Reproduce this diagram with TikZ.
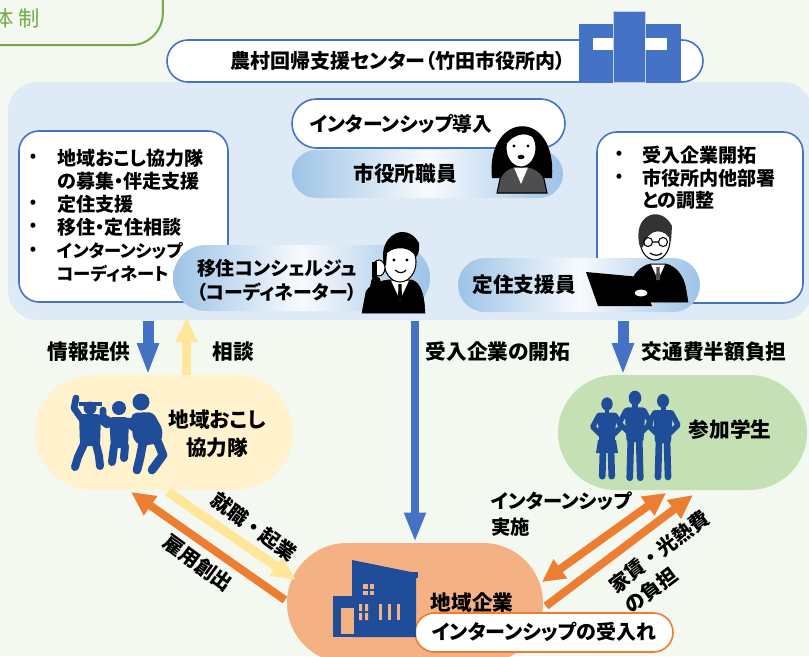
\documentclass[tikz,border=0pt]{standalone}
\usepackage{fontspec}
\setmainfont{Noto Sans CJK JP}[RawFeature={+palt}]
\newfontfamily\jpwide{Noto Sans CJK JP}
\usetikzlibrary{shapes.misc,arrows.meta}

\definecolor{bgc}{RGB}{243,248,240}
\definecolor{panelc}{RGB}{222,234,246}
\definecolor{lineblue}{RGB}{68,114,196}
\definecolor{pillblue}{RGB}{157,195,230}
\definecolor{arrowyellow}{RGB}{255,230,153}
\definecolor{orangec}{RGB}{237,125,49}
\definecolor{yellowpill}{RGB}{255,242,204}
\definecolor{greenpill}{RGB}{197,224,180}
\definecolor{orangepill}{RGB}{244,177,131}
\definecolor{silc}{RGB}{31,77,154}
\definecolor{tabgreen}{RGB}{112,173,71}
\definecolor{suitgray}{RGB}{78,78,78}

\tikzset{
  pill/.style={rounded rectangle, inner sep=0pt},
  whitepill/.style={pill, fill=white, draw=lineblue, line width=1.2pt},
  shadepill/.style={pill, left color=pillblue, right color=pillblue, middle color=white!92!pillblue},
  listbox/.style={rectangle, rounded corners=15pt, fill=white, draw=lineblue, line width=1.2pt, inner sep=0pt},
  lbl/.style={font=\fontsize{15.5}{18.5}\selectfont\bfseries, inner sep=0pt},
  widelbl/.style={font=\jpwide\fontsize{15}{19}\selectfont\bfseries, inner sep=0pt},
  boxtxt/.style={font=\fontsize{14.3}{17}\selectfont\bfseries, inner sep=0pt, anchor=west},
  katatxt/.style={boxtxt, font=\fontsize{13}{17}\selectfont\bfseries},
  bul/.style={font=\fontsize{12}{14}\selectfont\bfseries, inner sep=0pt},
  bluearrow/.style={draw=lineblue, line width=8.25pt, -{Triangle[width=15pt,length=24pt]}},
  thinblue/.style={draw=lineblue, line width=6pt, -{Triangle[width=15pt,length=22pt]}},
  yellowarrow/.style={draw=arrowyellow, line width=7pt, -{Triangle[width=15.5pt,length=18pt]}},
  orangearrow/.style={draw=orangec, line width=6pt, -{Triangle[width=16.5pt,length=18pt]}},
  sil/.style={draw=silc, line cap=round, line join=round},
  student/.pic={
    \fill[silc] (0,0) ellipse [x radius=6, y radius=7];
    \fill[silc] (-2.5,5) rectangle (2.5,10);
    \fill[silc,rounded corners=2pt] (-10,9) -- (10,9) -- (8,42) -- (-8,42) -- cycle;
    \draw[sil,line width=4pt] (-8.5,12) -- (-15,24) -- (-7,32) (8.5,12) -- (15,24) -- (7,32);
    \draw[sil,line width=5pt] (-4,40) -- (-5,76) (4,40) -- (5,76);
  }
}

\begin{document}
\begin{tikzpicture}[x=0.75pt,y=-0.75pt]
\useasboundingbox (0,0) rectangle (809,656);
\clip (0,0) rectangle (809,656);
\fill[bgc] (0,0) rectangle (809,656);

% heading tab
\node[draw=tabgreen, line width=1.5pt, rounded corners=24pt, minimum width=152pt, minimum height=64pt, inner sep=0pt] (tab) at (61.5,2.5) {};
\node[font=\fontsize{16}{19}\selectfont, text=tabgreen, inner sep=0pt] (tabA) at (3,18) {体};
\node[font=\fontsize{16}{19}\selectfont, text=tabgreen, inner sep=0pt] (tabB) at (29,18) {制};

% light blue panel
\node[rectangle, rounded corners=22pt, fill=panelc, minimum width=603pt, minimum height=178.5pt, inner sep=0pt] (panel) at (410,201) {};

% centre title
\node[whitepill, minimum width=402pt, minimum height=31.5pt] (title) at (435,61) {};
\node[lbl, font=\fontsize{15}{18}\selectfont\bfseries] (titletxt) at (398,61) {農村回帰支援センター（竹田市役所内）};

% city office building
\fill[lineblue] (579,24) rectangle (613,82);
\fill[lineblue] (645,24) rectangle (681,82);
\draw[fill=lineblue, draw=white!65!lineblue, line width=0.6pt] (613,11) rectangle (645,82);
\fill[white] (593,38) rectangle (613,50);
\fill[white] (645,38) rectangle (667,50);

% city staff
\node[whitepill, minimum width=204.75pt, minimum height=36.75pt] (intern) at (428.5,123.5) {};
\node[lbl, font=\fontsize{14.8}{18}\selectfont\bfseries] (interntxt) at (401,124) {インターンシップ導入};
\node[shadepill, minimum width=203.25pt, minimum height=36pt] (staff) at (427.5,174) {};
\node[lbl] (stafftxt) at (405,174) {市役所職員};

% task lists
\node[listbox, minimum width=156.75pt, minimum height=128.25pt] (leftbox) at (123.5,216.5) {};
\foreach \i/\yy in {1/158,3/204,4/227,5/251}
  \node[bul] (lb\i) at (33,\yy) {•};
\foreach \i/\yy/\t in {1/158/地域おこし協力隊, 2/181/の募集・伴走支援, 3/204/定住支援, 4/227/移住・定住相談}
  \node[boxtxt] (lt\i) at (57,\yy) {\t};
\foreach \i/\yy/\t in {5/251/インターンシップ, 6/274/コーディネート}
  \node[katatxt] (lt\i) at (57,\yy) {\t};

\node[listbox, minimum width=154.5pt, minimum height=128.25pt] (rightbox) at (700,217.5) {};
\foreach \i/\yy in {1/155,2/178}
  \node[bul] (rb\i) at (619,\yy) {•};
\foreach \i/\yy/\t in {1/155/受入企業開拓, 2/178/市役所内他部署, 3/200/との調整}
  \node[boxtxt] (rt\i) at (642,\yy) {\t};

% concierge and settlement staff
\node[shadepill, minimum width=192.75pt, minimum height=49.5pt] (conc) at (301.5,278) {};
\node[lbl, align=center, font=\fontsize{14.2}{18}\selectfont\bfseries] (conctxt) at (277,280) {移住コンシェルジュ\\（コーディネーター）};
\node[shadepill, minimum width=181.5pt, minimum height=40.5pt] (settle) at (579,285) {};
\node[lbl] (settletxt) at (524,285) {定住支援員};

% woman
\fill[black] (492,178) .. controls (485,112) and (557,106) .. (552,178) -- cycle;
\draw[fill=suitgray, line width=0.8pt] (497,193) -- (500,179) .. controls (503,171) and (509,168) .. (514,167) -- (528,167) .. controls (534,168) and (541,171) .. (544,179) -- (547,193) -- cycle;
\fill[white] (514,167.5) -- (521,184) -- (528,167.5) -- cycle;
\draw[fill=white, line width=0.8pt] (521,148) ellipse [x radius=15, y radius=19];
\fill[black] (505,146) .. controls (504,124) and (536,118) .. (538,143) .. controls (531,131) and (515,131) .. (505,146) -- cycle;
\fill[black] (514,146) circle [radius=1.6] (528,146) circle [radius=1.6];
\fill[black] (521,157) ellipse [x radius=3.5, y radius=2.2];

% man on the phone
\draw[fill=black] (362,313) -- (366,292) .. controls (370,284) and (380,281) .. (388,280) -- (412,280) .. controls (420,283) and (424,292) .. (425,313) -- cycle;
\fill[white] (391,280.5) -- (400,300) -- (409,280.5) -- cycle;
\fill[black] (398.5,284) -- (401.5,284) -- (402,299) -- (398,299) -- cycle;
\draw[black, line width=7pt, line cap=round] (371,306) -- (376,281);
\draw[fill=white, line width=0.8pt] (400,262) ellipse [x radius=16, y radius=20];
\fill[black] (384,264) .. controls (377,236) and (406,220) .. (419,243) .. controls (420,250) and (418,255) .. (416,257) .. controls (410,246) and (395,246) .. (387,253) -- (386,266) -- cycle;
\draw[fill=white, line width=0.8pt] (379,268) ellipse [x radius=6, y radius=8];
\fill[black] (372,262) rectangle (377,278);
\fill[black] (394,260) circle [radius=1.6] (407,260) circle [radius=1.6];
\draw[line width=0.9pt] (395,270) .. controls (399,274) and (404,273) .. (406,270);

% settlement staff with laptop
\draw[fill=black] (628,302) -- (632,280) .. controls (636,270) and (645,265) .. (650,264) -- (666,264) .. controls (675,266) and (684,275) .. (686,290) -- (688,302) -- cycle;
\fill[white] (651,264.5) -- (658,280) -- (665,264.5) -- cycle;
\fill[suitgray] (656.5,267) -- (659.5,267) -- (660,280) -- (656,280) -- cycle;
\draw[fill=white, line width=0.8pt] (655,240) ellipse [x radius=15, y radius=20];
\fill[black!80] (640,247) .. controls (631,214) and (661,204) .. (672,226) -- (671,242) .. controls (667,228) and (648,226) .. (643,247) -- cycle;
\draw[line width=0.8pt] (648,242) circle [radius=4.5] (663,242) circle [radius=4.5] (652.5,242) -- (658.5,242);
\draw[line width=0.9pt] (650,253) .. controls (654,256) and (659,256) .. (662,253);
\fill[black] (586,272) -- (640,277) -- (652,306) -- (598,306) -- cycle;
\draw[fill=white, line width=0.8pt] (641,293) ellipse [x radius=7, y radius=4];

% vertical arrows
\coordinate (a1s) at (148,321);  \coordinate (a1e) at (148,375);
\coordinate (a2s) at (186.5,375); \coordinate (a2e) at (186.5,318);
\coordinate (a3s) at (415,321);  \coordinate (a3e) at (415,542);
\coordinate (a4s) at (623,321);  \coordinate (a4e) at (623,375);
\draw[bluearrow] (a1s) -- (a1e);
\draw[yellowarrow] (a2s) -- (a2e);
\draw[thinblue] (a3s) -- (a3e);
\draw[bluearrow] (a4s) -- (a4e);
\node[lbl] (l1) at (89,352) {情報提供};
\node[lbl] (l2) at (233,352) {相談};
\node[lbl] (l3) at (498,352) {受入企業の開拓};
\node[lbl] (l4) at (714,352) {交通費半額負担};

% regional groups
\node[pill, fill=yellowpill, minimum width=193.5pt, minimum height=86.25pt] (okoshi) at (164,432.5) {};
\node[lbl, align=center, font=\fontsize{15.5}{21}\selectfont\bfseries] (okoshitxt) at (217,434) {地域おこし\\協力隊};
\node[pill, fill=greenpill, minimum width=186.75pt, minimum height=86.25pt] (stud) at (682.5,432.5) {};
\node[lbl] (studtxt) at (730,430) {参加学生};
\node[pill, fill=orangepill, minimum width=192pt, minimum height=90pt] (comp) at (415,603) {};
\node[lbl] (comptxt) at (472,603) {地域企業};
\node[pill, fill=white, draw=orangec, line width=1.2pt, minimum width=193.5pt, minimum height=29.25pt] (accept) at (544,632.5) {};
\node[lbl, font=\fontsize{15}{18}\selectfont\bfseries] (accepttxt) at (544,632) {インターンシップの受入れ};

% cooperation team silhouettes
\fill[silc] (90,408) circle [radius=6.5];
\fill[silc] (79,402) rectangle (102,405.5);
\fill[silc, rounded corners=3pt] (79,414) -- (101,414) -- (100,446) -- (80,446) -- cycle;
\draw[sil, line width=5pt] (81,418) -- (74,408) -- (76,398);
\draw[sil, line width=5pt] (99,419) -- (107,425);
\draw[sil, line width=6pt] (84,444) -- (78,457) -- (75,467) (96,444) -- (99,456) -- (100,466);
\fill[silc] (119,408) circle [radius=7];
\fill[silc, rounded corners=3pt] (109,417) -- (129,417) -- (128,448) -- (111,448) -- cycle;
\draw[sil, line width=5pt] (110,421) -- (103,417) -- (103,410);
\draw[sil, line width=5pt] (128,421) -- (133,428);
\draw[sil, line width=6pt] (114,446) -- (112,462) (125,446) -- (124,458);
\fill[silc] (141,402) circle [radius=8.5];
\fill[silc, rounded corners=4pt] (131,413) -- (153,412) -- (163,430) -- (161,443) -- (141,446) -- (133,440) -- cycle;
\draw[sil, line width=5pt] (133,420) -- (128,426);
\draw[sil, line width=6.5pt] (143,442) -- (140,458) -- (137,470) (157,440) -- (163,455) -- (152,470);

% students
\pic[scale=0.95] at (607,404) {student};
\fill[silc] (598,440) -- (616,440) -- (618,453) -- (596,453) -- cycle;
\pic[scale=1.05] at (635,398) {student};
\pic at (663,401) {student};

% company house
\fill[silc] (352,560) -- (416,573) -- (416,637) -- (352,637) -- cycle;
\fill[silc] (412,572) rectangle (418,578);
\fill[silc] (333,596) rectangle (353,637);
\fill[orangepill] (341,608) rectangle (354,634);
\foreach \xa/\ya in {363/584, 369.5/584, 363/590.5, 369.5/590.5}
  \fill[orangepill] (\xa,\ya) rectangle ++(4.5,4.5);
\foreach \xa in {359,365}
  \fill[orangepill] (\xa,604) rectangle ++(3,7) (\xa,613) rectangle ++(3,7);
\foreach \xa in {379,388,397}
  \fill[orangepill] (\xa,604) rectangle ++(3,16);

% diagonal arrows
\coordinate (d1s) at (168,492); \coordinate (d1e) at (296,580);
\coordinate (d2s) at (285,600); \coordinate (d2e) at (131,492);
\coordinate (d3s) at (542,582); \coordinate (d3e) at (666,493);
\coordinate (d4s) at (546,606); \coordinate (d4e) at (693,495);
\draw[yellowarrow] (d1s) -- (d1e);
\draw[orangearrow] (d2s) -- (d2e);
\draw[orangearrow, {Triangle[width=16.5pt,length=17pt]}-{Triangle[width=16.5pt,length=17pt]}] (d3s) -- (d3e);
\draw[orangearrow] (d4s) -- (d4e);
\node[widelbl, rotate=-36] (l5) at (254,527) {就職・起業};
\node[widelbl, rotate=-36] (l6) at (198,563) {雇用創出};
\node[lbl, align=left, anchor=west, font=\fontsize{14.5}{19}\selectfont\bfseries] (l7) at (491,514) {インターンシップ\\実施};
\node[widelbl, align=left, rotate=37] (l8) at (667,562) {家賃・光熱費\\の負担};
\end{tikzpicture}
\end{document}
